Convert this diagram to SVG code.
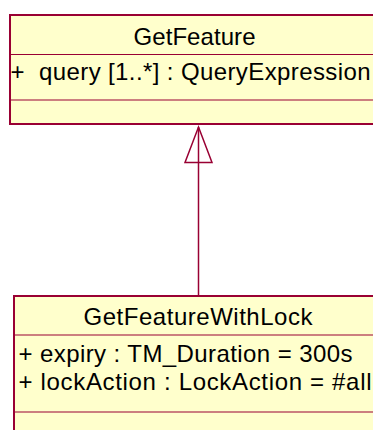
<svg xmlns="http://www.w3.org/2000/svg" width="373" height="430" viewBox="0 0 373 430">
<style>
.box{fill:#FFFFCC;stroke:#990033;stroke-width:2}
.div{stroke:#990033;stroke-width:1.2;fill:none}
.conn{stroke:#990033;stroke-width:1.5;fill:none}
text{font-family:"Liberation Sans",Arial,sans-serif;font-size:24px;fill:#000}
</style>
<rect width="373" height="430" fill="#FFFFFF"/>
<g id="GetFeature">
<rect class="box" x="10" y="15" width="400" height="109"/>
<line class="div" x1="10" y1="54.5" x2="410" y2="54.5"/>
<line class="div" x1="10" y1="100" x2="410" y2="100"/>
<text x="133.5" y="45" textLength="122" lengthAdjust="spacing">GetFeature</text>
<text x="10.5" y="80" xml:space="preserve" textLength="360" lengthAdjust="spacing">+  query [1..*] : QueryExpression</text>
</g>
<g id="GetFeatureWithLock">
<rect class="box" x="14" y="296" width="400" height="160"/>
<line class="div" x1="14" y1="335" x2="414" y2="335"/>
<line class="div" x1="14" y1="412" x2="414" y2="412"/>
<text x="83.5" y="325" textLength="229" lengthAdjust="spacing">GetFeatureWithLock</text>
<text x="18.5" y="361.5" textLength="334" lengthAdjust="spacing">+ expiry : TM_Duration = 300s</text>
<text x="18.5" y="390" textLength="353" lengthAdjust="spacing">+ lockAction : LockAction = #all</text>
</g>
<g id="connectors">
<line class="conn" x1="198.5" y1="127" x2="198.5" y2="295"/>
<polygon class="conn" points="198.5,127 212,162.5 185,162.5"/>
</g>
</svg>
